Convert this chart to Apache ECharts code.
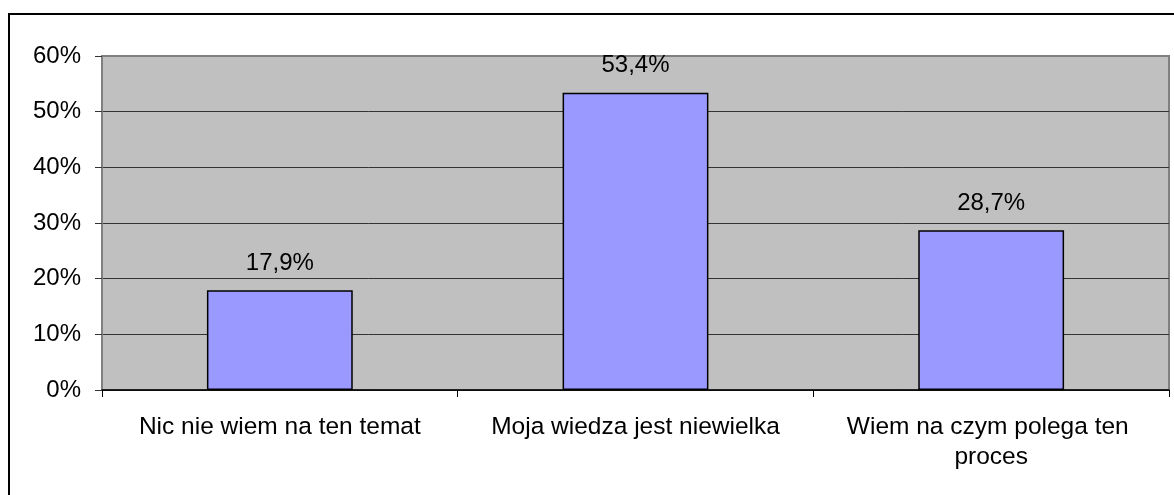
<!DOCTYPE html>
<html>
<head>
<meta charset="utf-8">
<script src="https://cdn.jsdelivr.net/npm/echarts@6/dist/echarts.min.js"></script>
<style>
html,body{margin:0;padding:0;background:#fff;}
#chart{width:1174px;height:495px;}
</style>
</head>
<body>
<div id="chart"></div>
<script>
var categories = ['Nic nie wiem na ten temat', 'Moja wiedza jest niewielka', 'Wiem na czym polega ten proces'];
var values = [17.9, 53.4, 28.7];
var yTicks = [0, 10, 20, 30, 40, 50, 60];

var FONT = '"Liberation Sans", Arial, sans-serif';
var chart = echarts.init(document.getElementById('chart'), null, {renderer: 'canvas'});
chart.setOption({
  animation: false,
  backgroundColor: '#ffffff',
  textStyle: {fontFamily: FONT},
  graphic: [{
    type: 'rect',
    shape: {x: 9, y: 14, width: 1200, height: 520},
    style: {fill: 'none', stroke: '#000', lineWidth: 2},
    z: 100
  }],
  grid: {
    left: 102, right: 5, top: 56, bottom: 105,
    show: true, backgroundColor: '#c0c0c0', borderColor: '#808080', borderWidth: 2
  },
  xAxis: {
    type: 'category',
    data: categories,
    axisLine: {show: true, lineStyle: {color: '#000', width: 1.5}},
    axisTick: {show: true, length: 7, lineStyle: {color: '#000'}},
    axisLabel: {
      color: '#000', fontSize: 24.5, fontFamily: FONT, margin: 22,
      width: 320, overflow: 'break', lineHeight: 30, interval: 0
    },
    splitLine: {show: false}
  },
  yAxis: {
    type: 'value',
    min: yTicks[0], max: yTicks[yTicks.length - 1], interval: 10,
    axisLine: {show: true, lineStyle: {color: '#808080', width: 2}},
    axisTick: {show: true, length: 7, lineStyle: {color: '#333'}},
    axisLabel: {
      color: '#000', fontSize: 24, fontFamily: FONT, margin: 21,
      formatter: function (v) { return v + '%'; }
    },
    splitLine: {show: true, lineStyle: {color: ['#333', '#333', '#333', '#333', '#333', '#333', '#808080'], width: 1}}
  },
  series: [{
    type: 'bar',
    data: values,
    barWidth: '41%',
    itemStyle: {color: '#9999ff', borderColor: '#000', borderWidth: 1.5},
    label: {
      show: true, position: 'top', distance: 15,
      color: '#000', fontSize: 24, fontFamily: FONT,
      formatter: function (p) { return p.value.toFixed(1).replace('.', ',') + '%'; }
    }
  }]
});
</script>
</body>
</html>
